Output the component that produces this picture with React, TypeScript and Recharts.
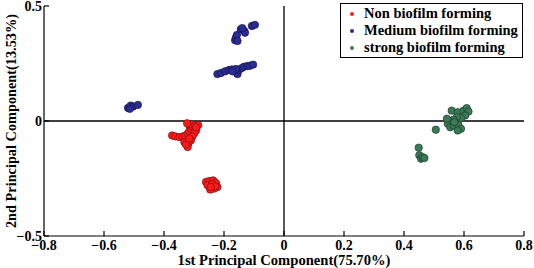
import React from "react";
import { ScatterChart, Scatter, XAxis, YAxis, ReferenceLine } from "recharts";

const nonBiofilm: [number, number][] = [
  [-0.373, -0.063], [-0.362, -0.067], [-0.349, -0.07], [-0.338, -0.067], [-0.329, -0.064],
  [-0.321, -0.055], [-0.316, -0.044], [-0.31, -0.034], [-0.305, -0.024], [-0.318, -0.015],
  [-0.307, -0.015], [-0.296, -0.019], [-0.286, -0.018], [-0.293, -0.041], [-0.299, -0.053],
  [-0.305, -0.067], [-0.31, -0.084], [-0.318, -0.096], [-0.321, -0.113], [-0.332, -0.092],
  [-0.327, -0.102], [-0.316, -0.077], [-0.293, -0.027], [-0.323, -0.01],
  [-0.26, -0.265], [-0.249, -0.261], [-0.236, -0.258], [-0.227, -0.269], [-0.222, -0.287],
  [-0.233, -0.294], [-0.246, -0.298], [-0.255, -0.279], [-0.24, -0.275], [-0.229, -0.284],
  [-0.244, -0.287],
];

const mediumBiofilm: [number, number][] = [
  [-0.52, 0.057], [-0.511, 0.067], [-0.503, 0.063], [-0.487, 0.07], [-0.514, 0.053],
  [-0.222, 0.204], [-0.21, 0.209], [-0.196, 0.216], [-0.183, 0.222], [-0.174, 0.224],
  [-0.166, 0.219], [-0.158, 0.211], [-0.155, 0.204], [-0.15, 0.222], [-0.141, 0.23],
  [-0.133, 0.236], [-0.122, 0.239], [-0.114, 0.24], [-0.103, 0.245], [-0.16, 0.226],
  [-0.172, 0.216],
  [-0.163, 0.351], [-0.16, 0.363], [-0.157, 0.374], [-0.155, 0.348], [-0.144, 0.399],
  [-0.133, 0.392], [-0.13, 0.384], [-0.107, 0.413], [-0.097, 0.418], [-0.139, 0.404],
];

const strongBiofilm: [number, number][] = [
  [0.559, 0.045], [0.579, 0.038], [0.598, 0.045], [0.609, 0.056], [0.615, 0.041],
  [0.604, 0.024], [0.59, 0.012], [0.576, 0.017], [0.565, 0.006], [0.548, 0.002],
  [0.546, -0.012], [0.554, -0.027], [0.565, -0.019], [0.581, -0.017], [0.59, -0.034],
  [0.579, -0.041], [0.568, -0.005], [0.543, 0.01], [0.506, -0.038], [0.449, -0.116],
  [0.451, -0.149], [0.457, -0.164], [0.462, -0.157], [0.468, -0.161],
];

const xTicks = [-0.8, -0.6, -0.4, -0.2, 0, 0.2, 0.4, 0.6, 0.8];
const yTicks = [-0.5, 0, 0.5];

const seriesNames = ["Non biofilm forming", "Medium biofilm forming", "strong biofilm forming"];
const seriesColors = ["#ff1a1a", "#2b2b96", "#3b7a58"];
const seriesEdges = ["#7a1010", "#15154a", "#1d3d2c"];

const FONT = "'Liberation Serif', 'Times New Roman', serif";

const toObjs = (arr: [number, number][]) => arr.map(([x, y]) => ({ x, y }));

const fmt = (v: number) => String(v).replace("-", "\u2212");

const XTick = (props: any) => {
  const { x, y, payload } = props;
  const axisY = y - 4;
  return (
    <g>
      <line x1={x} x2={x} y1={axisY} y2={axisY - 5} stroke="#000" strokeWidth={1.2} />
      <text x={x} y={axisY + 14} textAnchor="middle" fontFamily={FONT} fontWeight="bold" fontSize={14} fill="#000">
        {fmt(payload.value)}
      </text>
    </g>
  );
};

const YTick = (props: any) => {
  const { x, y, payload } = props;
  const axisX = x + 4;
  return (
    <g>
      <line x1={axisX} x2={axisX + 5} y1={y} y2={y} stroke="#000" strokeWidth={1.2} />
      <text x={axisX - 2} y={y + 5} textAnchor="end" fontFamily={FONT} fontWeight="bold" fontSize={14} fill="#000">
        {fmt(payload.value)}
      </text>
    </g>
  );
};

const Dot = (color: string, edge: string) => (props: any) => (
  <circle cx={props.cx} cy={props.cy} r={3.7} fill={color} stroke={edge} strokeWidth={0.7} />
);

const LegendBox = () => (
  <div
    style={{
      position: "absolute",
      left: 340,
      top: 3,
      border: "1px solid #000",
      background: "#fff",
      width: 183,
      height: 55,
      boxSizing: "border-box",
      padding: "1px 0 0 9px",
      fontFamily: FONT,
      fontWeight: "bold",
      fontSize: 14.5,
      lineHeight: "17px",
      color: "#000",
    }}
  >
    {seriesNames.map((n, i) => (
      <div key={n} style={{ display: "flex", alignItems: "center", whiteSpace: "nowrap" }}>
        <span
          style={{
            display: "inline-block",
            width: 4,
            height: 4,
            borderRadius: 2,
            background: seriesColors[i],
            marginRight: 10,
          }}
        />
        {n}
      </div>
    ))}
  </div>
);

export default function App() {
  return (
    <div style={{ position: "absolute", left: 0, top: 0, width: 534, height: 268, background: "#fff" }}>
      <ScatterChart width={534} height={268} margin={{ top: 6, right: 10, bottom: 0, left: 0 }}>
        <XAxis
          type="number"
          dataKey="x"
          domain={[-0.8, 0.8]}
          ticks={xTicks}
          allowDataOverflow
          height={32}
          tickSize={0}
          tickMargin={4}
          tickLine={false}
          axisLine={{ stroke: "#000", strokeWidth: 1.2 }}
          tick={<XTick />}
          interval={0}
          label={{
            value: "1st Principal Component(75.70%)",
            position: "insideBottom",
            offset: 3,
            style: { fontFamily: FONT, fontWeight: "bold", fontSize: 14.6, fill: "#000" },
          }}
        />
        <YAxis
          type="number"
          dataKey="y"
          domain={[-0.5, 0.5]}
          ticks={yTicks}
          allowDataOverflow
          width={44}
          tickSize={0}
          tickMargin={4}
          tickLine={false}
          axisLine={{ stroke: "#000", strokeWidth: 1.2 }}
          tick={<YTick />}
          interval={0}
          label={{
            value: "2nd Principal Component(13.53%)",
            angle: -90,
            position: "center",
            dx: -11,
            style: { fontFamily: FONT, fontWeight: "bold", fontSize: 14.3, fill: "#000", textAnchor: "middle" },
          }}
        />
        <ReferenceLine x={0} stroke="#000" strokeWidth={1.3} />
        <ReferenceLine y={0} stroke="#000" strokeWidth={1.3} />
        <Scatter name={seriesNames[0]} data={toObjs(nonBiofilm)} fill={seriesColors[0]} shape={Dot(seriesColors[0], seriesEdges[0])} isAnimationActive={false} />
        <Scatter name={seriesNames[1]} data={toObjs(mediumBiofilm)} fill={seriesColors[1]} shape={Dot(seriesColors[1], seriesEdges[1])} isAnimationActive={false} />
        <Scatter name={seriesNames[2]} data={toObjs(strongBiofilm)} fill={seriesColors[2]} shape={Dot(seriesColors[2], seriesEdges[2])} isAnimationActive={false} />
      </ScatterChart>
      <LegendBox />
    </div>
  );
}
